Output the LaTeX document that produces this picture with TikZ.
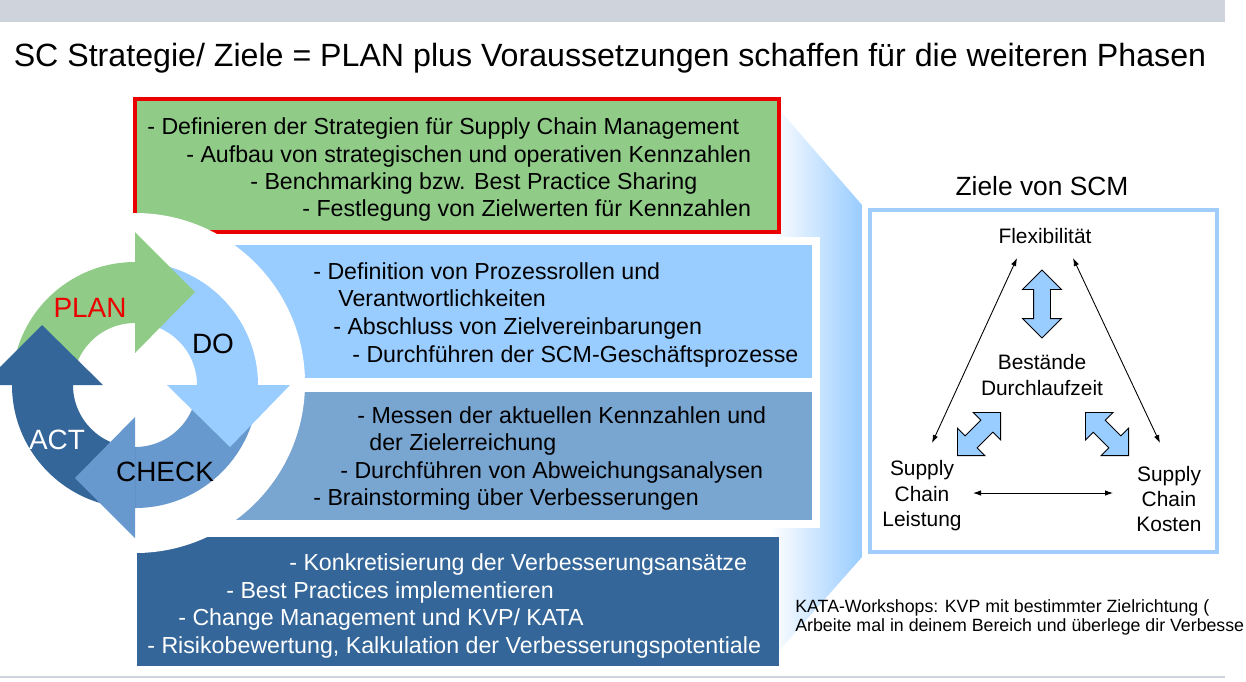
\documentclass[tikz,border=0pt]{standalone}
\usepackage{fontspec}
\setmainfont{Liberation Sans}
\usetikzlibrary{arrows.meta, shapes.arrows, positioning}

\definecolor{plangreen}{RGB}{144,204,136}
\definecolor{planred}{RGB}{235,0,0}
\definecolor{dolight}{RGB}{153,204,255}
\definecolor{checkmid}{RGB}{121,165,209}
\definecolor{checkarrow}{RGB}{104,153,206}
\definecolor{actdark}{RGB}{52,102,153}
\definecolor{bargray}{RGB}{207,211,219}
\definecolor{panelblue}{RGB}{160,205,250}

\begin{document}
\begin{tikzpicture}[x=0.02cm, y=-0.02cm,
    boxline/.style={anchor=base west, inner sep=0pt, font=\fontsize{13.2}{15}\selectfont},
    pdcalabel/.style={inner sep=0pt, font=\fontsize{15.9}{18}\selectfont},
    goaltext/.style={inner sep=0pt, align=center, font=\fontsize{11.9}{14.5}\selectfont},
    noteline/.style={anchor=base west, inner sep=0pt, font=\fontsize{10.1}{11}\selectfont},
    blockarrow/.style={double arrow, draw=black, fill=dolight, line width=0.5pt,
        inner xsep=0pt, inner ysep=0.16cm, double arrow head extend=0.22cm},
    thinarrow/.style={{Latex[length=0.16cm,width=0.11cm]}-{Latex[length=0.16cm,width=0.11cm]}, line width=0.5pt}
]
\useasboundingbox (0,0) rectangle (1246,681);
\clip (0,0) rectangle (1246,681);

% header bar, title and footer line
\fill[bargray] (0,0) rectangle (1225,22);
\draw[bargray, line width=0.04cm] (0,677) -- (1225,677);
\node[anchor=base, inner sep=0pt, font=\fontsize{18.3}{21}\selectfont] (title) at (610,66)
    {SC Strategie/ Ziele = PLAN plus Voraussetzungen schaffen für die weiteren Phasen};

% funnel towards the goals
\shade[left color=white, right color=dolight] (770,99) -- (862,205) -- (862,557) -- (770,661) -- cycle;

% phase boxes
\draw[planred, line width=0.08cm, fill=plangreen] (135,99) rectangle (779,232);
\draw[white, line width=0.16cm, fill=dolight] (200,241) rectangle (816,382);
\draw[white, line width=0.16cm, fill=checkmid] (200,388) rectangle (816,524);
\fill[actdark] (137,537) rectangle (779,666);

% white disc behind the cycle
\fill[white] (135,383) circle[radius=170];

% PLAN
\node[boxline] (plan1) at (147,134) {- Definieren der Strategien für Supply Chain Management};
\node[boxline] (plan2) at (186,162) {- Aufbau von strategischen und operativen Kennzahlen};
\node[boxline] (plan3) at (250,189) {- Benchmarking bzw. Best Practice Sharing};
\node[boxline] (plan4) at (302,216) {- Festlegung von Zielwerten für Kennzahlen};

% DO
\node[boxline] (do1) at (313,279) {- Definition von Prozessrollen und};
\node[boxline] (do2) at (338,306) {Verantwortlichkeiten};
\node[boxline] (do3) at (333,334) {- Abschluss von Zielvereinbarungen};
\node[boxline] (do4) at (352,362) {- Durchführen der SCM-Geschäftsprozesse};

% CHECK
\node[boxline] (check1) at (357,423) {- Messen der aktuellen Kennzahlen und};
\node[boxline] (check2) at (369,450) {der Zielerreichung};
\node[boxline] (check3) at (340,478) {- Durchführen von Abweichungsanalysen};
\node[boxline] (check4) at (313,505) {- Brainstorming über Verbesserungen};

% ACT
\node[boxline, white] (act1) at (289,570) {- Konkretisierung der Verbesserungsansätze};
\node[boxline, white] (act2) at (226,598) {- Best Practices implementieren};
\node[boxline, white] (act3) at (178,625) {- Change Management und KVP/ KATA};
\node[boxline, white] (act4) at (147,653) {- Risikobewertung, Kalkulation der Verbesserungspotentiale};

% PDCA cycle
\begin{scope}[shift={(135,385)}, y=0.02cm]
    % arcs
    \fill[plangreen] (180:123) arc[start angle=180, end angle=90, radius=123]
        -- (90:62) arc[start angle=90, end angle=180, radius=62] -- cycle;
    \fill[dolight] (90:123) arc[start angle=90, end angle=0, radius=123]
        -- (0:62) arc[start angle=0, end angle=90, radius=62] -- cycle;
    \fill[checkarrow] (0:123) arc[start angle=0, end angle=-90, radius=123]
        -- (-90:62) arc[start angle=-90, end angle=0, radius=62] -- cycle;
    \fill[actdark] (-90:123) arc[start angle=-90, end angle=-180, radius=123]
        -- (-180:62) arc[start angle=-180, end angle=-90, radius=62] -- cycle;
    % heads
    \fill[plangreen] (0,32) -- (0,153) -- (60,93) -- cycle;
    \fill[dolight] (32,0) -- (155,0) -- (95,-62) -- cycle;
    \fill[checkarrow] (0,-32) -- (0,-153) -- (-60,-93) -- cycle;
    \fill[actdark] (-32,0) -- (-153,0) -- (-93,60) -- cycle;
\end{scope}

\node[pdcalabel, planred] (planlbl) at (90,308) {PLAN};
\node[pdcalabel] (dolbl) at (213,344) {DO};
\node[pdcalabel] (checklbl) at (165,472) {CHECK};
\node[pdcalabel, white] (actlbl) at (57,440) {ACT};

% goals of SCM
\node[anchor=base, inner sep=0pt, font=\fontsize{15}{17}\selectfont] (goaltitle) at (1042,195) {Ziele von SCM};
\draw[panelblue, line width=0.07cm, fill=white] (870,210) rectangle (1217,552);

\node[goaltext] (flex) at (1045,236) {Flexibilität};
\node[goaltext] (stock) at (1042,375) {Bestände\\Durchlaufzeit};
\node[goaltext] (perf) at (922,496) {Supply\\Chain\\Leistung};
\node[goaltext] (cost) at (1169,499) {Supply\\Chain\\Kosten};

\node[blockarrow, rotate=90, minimum height=1.36cm] (flexstock) at (1042,304) {};
\node[blockarrow, rotate=45, minimum height=1.22cm] (perfstock) at (979,434) {};
\node[blockarrow, rotate=-45, minimum height=1.22cm] (coststock) at (1107,434) {};

\coordinate (flexL) at (1017,258);
\coordinate (flexR) at (1073,258);
\coordinate (perfT) at (932,443);
\coordinate (costT) at (1160,443);
\coordinate (perfR) at (973,493);
\coordinate (costL) at (1113,493);
\draw[thinarrow] (flexL) -- (perfT);
\draw[thinarrow] (flexR) -- (costT);
\draw[thinarrow] (perfR) -- (costL);

% note
\node[noteline] (note1) at (795,612) {KATA-Workshops: KVP mit bestimmter Zielrichtung (};
\node[noteline] (note2) at (795,631) {Arbeite mal in deinem Bereich und überlege dir Verbesse};
\end{tikzpicture}
\end{document}
